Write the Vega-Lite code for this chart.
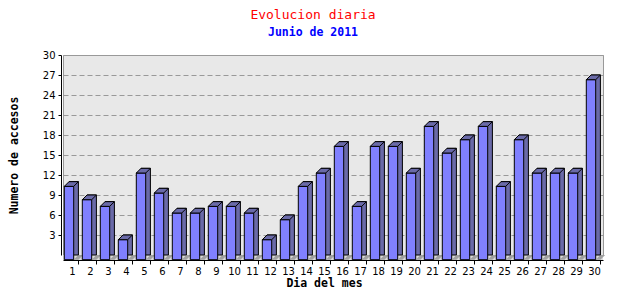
{
  "$schema": "https://vega.github.io/schema/vega-lite/v6.json",
  "autosize": "none",
  "width": 540,
  "height": 200,
  "padding": {"left": 63, "top": 55, "right": 37, "bottom": 45},
  "background": "white",
  "title": {
    "text": "Evolucion diaria",
    "subtitle": "Junio de 2011",
    "anchor": "middle",
    "dx": -20,
    "offset": 12,
    "font": "DejaVu Sans Mono",
    "fontSize": 13,
    "fontWeight": "normal",
    "color": "#ff0000",
    "subtitleFont": "DejaVu Sans Mono",
    "subtitleFontSize": 11.5,
    "subtitleFontWeight": "bold",
    "subtitleColor": "#0000ff",
    "subtitlePadding": 5
  },
  "config": {
    "view": {"fill": "#e8e8e8", "stroke": "#999999", "strokeWidth": 1},
    "axis": {
      "labelFont": "DejaVu Sans",
      "labelFontSize": 10,
      "labelColor": "#000000",
      "titleFont": "DejaVu Sans Mono",
      "titleFontSize": 11.5,
      "titleFontWeight": "bold",
      "titleColor": "#000000",
      "domainColor": "#000000",
      "tickColor": "#000000"
    }
  },
  "data": {
    "values": [
      {"dia": 1, "accesos": 11}, {"dia": 2, "accesos": 9}, {"dia": 3, "accesos": 8},
      {"dia": 4, "accesos": 3}, {"dia": 5, "accesos": 13}, {"dia": 6, "accesos": 10},
      {"dia": 7, "accesos": 7}, {"dia": 8, "accesos": 7}, {"dia": 9, "accesos": 8},
      {"dia": 10, "accesos": 8}, {"dia": 11, "accesos": 7}, {"dia": 12, "accesos": 3},
      {"dia": 13, "accesos": 6}, {"dia": 14, "accesos": 11}, {"dia": 15, "accesos": 13},
      {"dia": 16, "accesos": 17}, {"dia": 17, "accesos": 8}, {"dia": 18, "accesos": 17},
      {"dia": 19, "accesos": 17}, {"dia": 20, "accesos": 13}, {"dia": 21, "accesos": 20},
      {"dia": 22, "accesos": 16}, {"dia": 23, "accesos": 18}, {"dia": 24, "accesos": 20},
      {"dia": 25, "accesos": 11}, {"dia": 26, "accesos": 18}, {"dia": 27, "accesos": 13},
      {"dia": 28, "accesos": 13}, {"dia": 29, "accesos": 13}, {"dia": 30, "accesos": 27}
    ]
  },
  "encoding": {
    "x": {
      "field": "dia",
      "type": "ordinal",
      "scale": {"paddingInner": 0, "paddingOuter": 0},
      "axis": {
        "title": "Dia del mes",
        "labelAngle": 0,
        "offset": 5,
        "tickSize": 4,
        "tickOffset": 6.3,
        "labelOffset": -6.3,
        "labelPadding": 2,
        "titlePadding": 1,
        "titleX": 261,
        "grid": false
      }
    },
    "y": {
      "field": "accesos",
      "type": "quantitative",
      "scale": {"domain": [0, 30], "nice": false},
      "axis": {
        "title": "Numero de accesos",
        "values": [3, 6, 9, 12, 15, 18, 21, 24, 27, 30],
        "offset": 2,
        "tickSize": 3,
        "labelPadding": 3,
        "titlePadding": 23,
        "grid": true,
        "gridColor": "#999999",
        "gridDash": [5, 3],
        "gridOpacity": 1
      }
    }
  },
  "layer": [
    {
      "mark": {"type": "rule", "color": "#dcdcdc", "strokeWidth": 5, "yOffset": 2.5},
      "encoding": {"x": null, "y": {"datum": 0}}
    },
    {
      "mark": {"type": "point", "shape": "M1,1L2,0L3,0L2,1Z", "size": 88.36, "xOffset": -3, "filled": true, "fill": "#a0a0a0", "fillOpacity": 1, "opacity": 1, "strokeWidth": 0},
      "encoding": {"y": {"datum": 0}}
    },
    {
      "mark": {"type": "bar", "size": 9.4, "xOffset": 1.7, "fill": "#6a6aa8", "stroke": "#000000", "strokeWidth": 1}
    },
    {
      "mark": {"type": "bar", "size": 9.4, "xOffset": -3, "yOffset": 4.7, "y2Offset": 4.7, "fill": "#8080ff", "stroke": "#000000", "strokeWidth": 1}
    },
    {
      "mark": {"type": "point", "shape": "M-1,1L0,0L2,0L1,1Z", "size": 88.36, "xOffset": -3, "filled": true, "fill": "#6a6aa8", "fillOpacity": 1, "opacity": 1, "stroke": "#000000", "strokeWidth": 1, "strokeJoin": "miter"}
    }
  ]
}
